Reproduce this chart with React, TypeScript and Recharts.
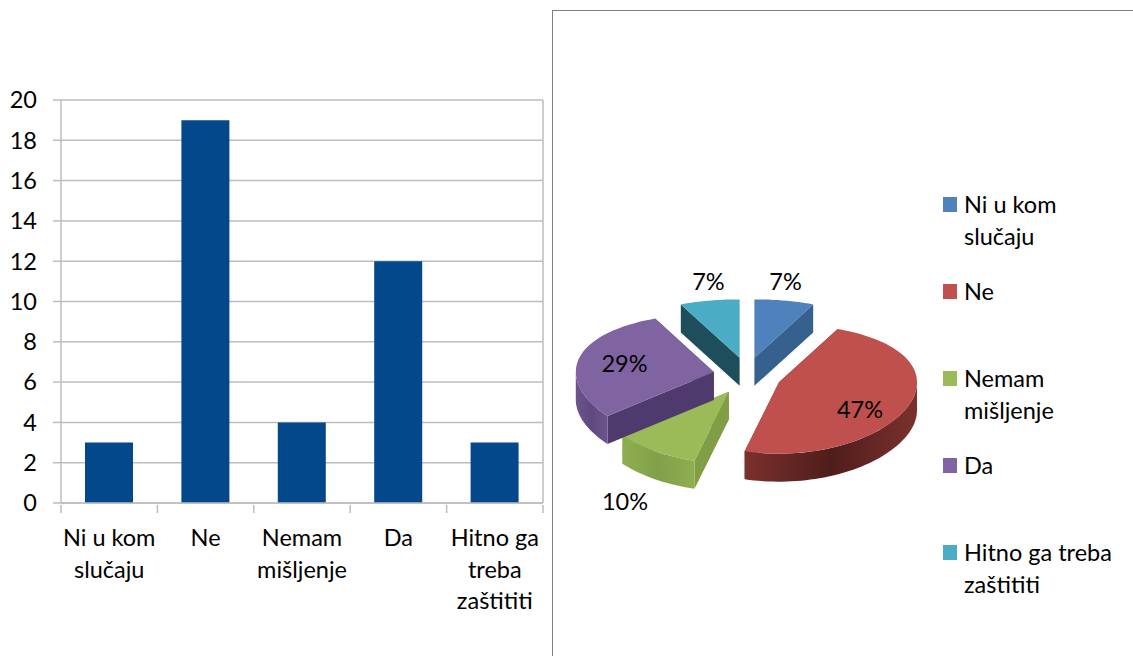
import React from "react";
import { BarChart, Bar, XAxis, YAxis, CartesianGrid, PieChart, Pie, Legend } from "recharts";

const CATEGORIES = ["Ni u kom slučaju", "Ne", "Nemam mišljenje", "Da", "Hitno ga treba zaštititi"];
const CATEGORY_LINES = [["Ni u kom", "slučaju"], ["Ne"], ["Nemam", "mišljenje"], ["Da"], ["Hitno ga", "treba", "zaštititi"]];
const COUNTS = [3, 19, 4, 12, 3];
const PERCENTS = [7, 47, 10, 29, 7];
const TICKS = [0, 2, 4, 6, 8, 10, 12, 14, 16, 18, 20];

const TOP_COLORS = ["#4F81BD", "#C0504D", "#9BBB59", "#8064A2", "#4BACC6"];
const EDGE_COLORS = ["#36618F", "#5E2422", "#7F9E45", "#4F3A6D", "#1E4E5C"];
const RIM_COLORS = ["#3F6A9C", "#7B312E", "#8FAE50", "#6E548D", "#2F7F95"];
const RIM_SHADES = ["#3F6A9C", "#4F1D1B", "#82A049", "#5F4880", "#2F7F95"];
// label position, as multiples of the pie radii from the pie centre
const LABEL_FACTORS = [[1.28, 1.5], [0.87, 1.5], [1.65, 2.28], [0.91, 0.93], [1.28, 1.5]];

const FONT = "Lato, sans-serif";
const FONT_SIZE = 23.5;
const BAR_COLOR = "#03488A";
const GRID = "#BDBDBD";
const SQUASH = 0.47;
const PERSPECTIVE = 0.1;
const DEPTH = 28;
const EXPLODE = 34;
const EXPLODE_Y = 0.55;
const BAND = 96.4;

const barRows = CATEGORIES.map((name, i) => ({ name, value: COUNTS[i] }));
const pieRows = CATEGORIES.map((name, i) => ({
  name,
  value: PERCENTS[i],
  fill: TOP_COLORS[i],
  edge: EDGE_COLORS[i],
  rim: RIM_COLORS[i],
  rimShade: RIM_SHADES[i],
  idx: i,
}));

const rad = (d: number) => (d * Math.PI) / 180;

function Slice(props: any) {
  const { cx, cy, outerRadius, startAngle, endAngle, midAngle, fill, payload } = props;
  const rx = outerRadius;
  const ry = outerRadius * SQUASH;
  const ox = cx + EXPLODE * Math.cos(rad(midAngle));
  const oy = cy - EXPLODE * EXPLODE_Y * Math.sin(rad(midAngle));
  const P = (a: number, d = 0) => {
    const s = -Math.sin(rad(a));
    return [ox + rx * Math.cos(rad(a)), oy + ry * s * (1 + PERSPECTIVE * s) + d];
  };
  const f = (p: number[]) => `${p[0].toFixed(1)} ${p[1].toFixed(1)}`;
  const arc = (from: number, to: number, d = 0) => {
    const n = Math.max(2, Math.ceil(Math.abs(from - to) / 2));
    const pts: string[] = [];
    for (let i = 0; i <= n; i++) pts.push(f(P(from + ((to - from) * i) / n, d)));
    return pts.join(" L");
  };
  const apex = [ox, oy];
  const apexLow = [ox, oy + DEPTH];
  const top = `M${f(apex)} L${arc(startAngle, endAngle)} Z`;
  const wall = (a: number) => `M${f(apex)} L${f(P(a))} L${f(P(a, DEPTH))} L${f(apexLow)} Z`;
  const s = Math.min(startAngle, 0);
  const e = Math.max(endAngle, -180);
  const row = payload ?? props;
  const gid = `rim-${row.idx}`;
  return (
    <g>
      <defs>
        <linearGradient id={gid} x1="0" y1="0" x2="1" y2="0">
          <stop offset="0" stopColor={row.rim} />
          <stop offset="0.5" stopColor={row.rimShade} />
          <stop offset="1" stopColor={row.rim} />
        </linearGradient>
      </defs>
      <path d={wall(startAngle)} fill={row.edge} />
      <path d={wall(endAngle)} fill={row.edge} />
      {s > e && <path d={`M${arc(s, e)} L${arc(e, s, DEPTH)} Z`} fill={`url(#${gid})`} />}
      <path d={top} fill={fill} />
    </g>
  );
}

function pieLabel(props: any) {
  const { cx, cy, outerRadius, midAngle, index, value } = props;
  const [fx, fy] = LABEL_FACTORS[index];
  const x = cx + outerRadius * fx * Math.cos(rad(midAngle));
  const y = cy - outerRadius * SQUASH * fy * Math.sin(rad(midAngle));
  return (
    <text x={x} y={y} textAnchor="middle" dominantBaseline="central" fontFamily={FONT} fontSize={FONT_SIZE} fill="#000">
      {value}%
    </text>
  );
}

function CategoryTick(props: any) {
  const { x, y, index } = props;
  const last = index === CATEGORIES.length - 1;
  const axisY = y - 8;
  return (
    <g>
      <line x1={x - BAND / 2} x2={x - BAND / 2} y1={axisY} y2={axisY + 8} stroke={GRID} strokeWidth={1.5} />
      {last && <line x1={x + BAND / 2} x2={x + BAND / 2} y1={axisY} y2={axisY + 8} stroke={GRID} strokeWidth={1.5} />}
      <text textAnchor="middle" fontFamily={FONT} fontSize={FONT_SIZE} fill="#000">
        {CATEGORY_LINES[index].map((line, i) => (
          <tspan key={i} x={x} y={axisY + 41 + i * 31.5}>
            {line}
          </tspan>
        ))}
      </text>
    </g>
  );
}

function LegendBox({ payload }: any) {
  return (
    <div style={{ position: "relative", width: 200, height: 430, fontFamily: FONT, fontSize: FONT_SIZE, lineHeight: "31.5px", color: "#000" }}>
      {(payload || []).map((item: any, i: number) => (
        <div key={i} style={{ position: "absolute", left: 0, top: i * 87, display: "flex" }}>
          <span style={{ width: 14, height: 15, marginTop: 8, marginRight: 7, background: item.color, flex: "none" }} />
          <span style={{ width: 155 }}>{item.value}</span>
        </div>
      ))}
    </div>
  );
}

export default function App() {
  return (
    <div style={{ position: "absolute", left: 0, top: 0, width: 1133, height: 656, overflow: "hidden", background: "#fff" }}>
      <div style={{ position: "absolute", left: 0, top: 0 }}>
        <BarChart width={552} height={656} data={barRows} margin={{ top: 100, right: 9, bottom: 0, left: 0 }} barCategoryGap="50%">
          <CartesianGrid
            stroke={GRID}
            strokeWidth={1.5}
            verticalCoordinatesGenerator={({ offset }: any) => [offset.left + offset.width]}
          />
          <XAxis
            dataKey="name"
            interval={0}
            height={153}
            stroke={GRID}
            strokeWidth={1.5}
            tickLine={false}
            tickSize={8}
            tick={<CategoryTick />}
          />
          <YAxis
            width={61}
            domain={[0, 20]}
            ticks={TICKS}
            interval={0}
            stroke={GRID}
            strokeWidth={1.5}
            tickSize={8}
            tickMargin={16}
            tick={{ fontFamily: FONT, fontSize: FONT_SIZE, fill: "#000" }}
            tickLine={{ stroke: GRID, strokeWidth: 1.5 }}
          />
          <Bar dataKey="value" fill={BAR_COLOR} barSize={48} isAnimationActive={false} />
        </BarChart>
      </div>
      <div style={{ position: "absolute", left: 552, top: 10, width: 581, height: 646, borderLeft: "1.5px solid #7F7F7F", borderTop: "1.5px solid #7F7F7F", boxSizing: "border-box" }} />
      <div style={{ position: "absolute", left: 553, top: 11 }}>
        <PieChart width={580} height={645} margin={{ top: 0, right: 0, bottom: 0, left: 0 }}>
          <Pie
            data={pieRows}
            dataKey="value"
            nameKey="name"
            cx={194}
            cy={365}
            outerRadius={138}
            startAngle={90}
            endAngle={-270}
            stroke="none"
            labelLine={false}
            label={pieLabel}
            shape={Slice}
            isAnimationActive={false}
          />
          <Legend
            content={<LegendBox />}
            layout="vertical"
            itemSorter={null}
            wrapperStyle={{ position: "absolute", left: 390, top: 178, width: 200 }}
          />
        </PieChart>
      </div>
    </div>
  );
}
